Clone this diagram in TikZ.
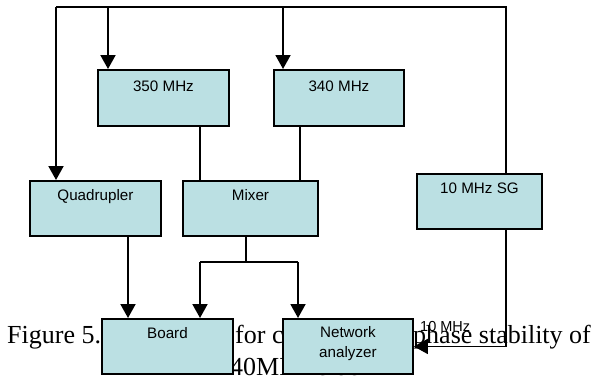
\documentclass[tikz,border=0pt]{standalone}
\usepackage{fontspec}
\setmainfont{Liberation Serif}
\newfontfamily\arialfont{Liberation Sans}
\usetikzlibrary{arrows.meta}
\definecolor{boxfill}{RGB}{187,224,227}
\begin{document}
\begin{tikzpicture}[x=1pt,y=-1pt,
  blk/.style={draw=black, line width=1.9pt, fill=boxfill, rectangle, inner sep=0pt, anchor=north west},
  txt/.style={font=\arialfont\fontsize{15.2}{18}\selectfont, inner sep=0pt, anchor=base},
  smalltxt/.style={font=\arialfont\fontsize{14.5}{17}\selectfont, inner sep=0pt, anchor=base west},
  captxt/.style={font=\fontsize{26}{31}\selectfont, inner sep=0pt, anchor=base west},
  wire/.style={draw=black, line width=1.9pt},
  arr/.style={wire, -{Triangle[length=14pt,width=15pt]}}]
\useasboundingbox (0,0) rectangle (599,378);
% caption (partly hidden behind the boxes)
\node[captxt] (cap1) at (7,343) {Figure 5.12 Setup};
\node[captxt] (cap2) at (235,343) {for checking the};
\node[captxt] (cap3) at (413,343) {phase stability of};
\node[captxt] (cap4) at (230,375) {40MHz clock};
% boxes
\node[blk, minimum width=131pt, minimum height=56pt] (b350) at (97,69) {};
\node[blk, minimum width=130pt, minimum height=56pt] (b340) at (273,69) {};
\node[blk, minimum width=131pt, minimum height=55pt] (quad) at (29,180) {};
\node[blk, minimum width=135pt, minimum height=55pt] (mix) at (182,180) {};
\node[blk, minimum width=125pt, minimum height=55pt] (sg) at (416,173) {};
\node[blk, minimum width=131pt, minimum height=55pt] (board) at (101,318) {};
\node[blk, minimum width=130pt, minimum height=55pt] (na) at (282,318) {};
% box texts
\node[txt] (t350) at ([yshift=-22pt]b350.north) {350 MHz};
\node[txt] (t340) at ([yshift=-22pt]b340.north) {340 MHz};
\node[txt] (tquad) at ([yshift=-20pt]quad.north) {Quadrupler};
\node[txt] (tmix) at ([yshift=-20pt]mix.north) {Mixer};
\node[txt] (tsg) at ([yshift=-20pt]sg.north) {10 MHz SG};
\node[txt] (tboard) at ([yshift=-20pt]board.north) {Board};
\node[txt] (tna1) at ([yshift=-19pt]na.north) {Network};
\node[txt] (tna2) at ([yshift=-39pt]na.north) {analyzer};
% coordinates
\coordinate (tl) at (56,7);
\coordinate (tr) at (506,7);
\coordinate (x350) at (108,7);
\coordinate (x340) at (283,7);
\coordinate (c350) at (200,0);
\coordinate (c340) at (300,0);
\coordinate (cq) at (128,0);
\coordinate (split) at (246,262);
\coordinate (xb) at (200,262);
\coordinate (xn) at (298,262);
% connectors
\draw[wire] (tl) -- (tr) -- (tr |- sg.north);
\draw[arr] (tl) -- (tl |- quad.north);
\draw[arr] (x350) -- (x350 |- b350.north);
\draw[arr] (x340) -- (x340 |- b340.north);
\draw[wire] (c350 |- b350.south) -- (c350 |- mix.north);
\draw[wire] (c340 |- b340.south) -- (c340 |- mix.north);
\draw[arr] (cq |- quad.south) -- (cq |- board.north);
\draw[wire] (split |- mix.south) -- (split);
\draw[wire] (xb) -- (xn);
\draw[arr] (xb) -- (xb |- board.north);
\draw[arr] (xn) -- (xn |- na.north);
\draw[arr] (tr |- sg.south) |- (na.east);
\node[smalltxt] (l10) at (420,331) {10 MHz};
\end{tikzpicture}
\end{document}
